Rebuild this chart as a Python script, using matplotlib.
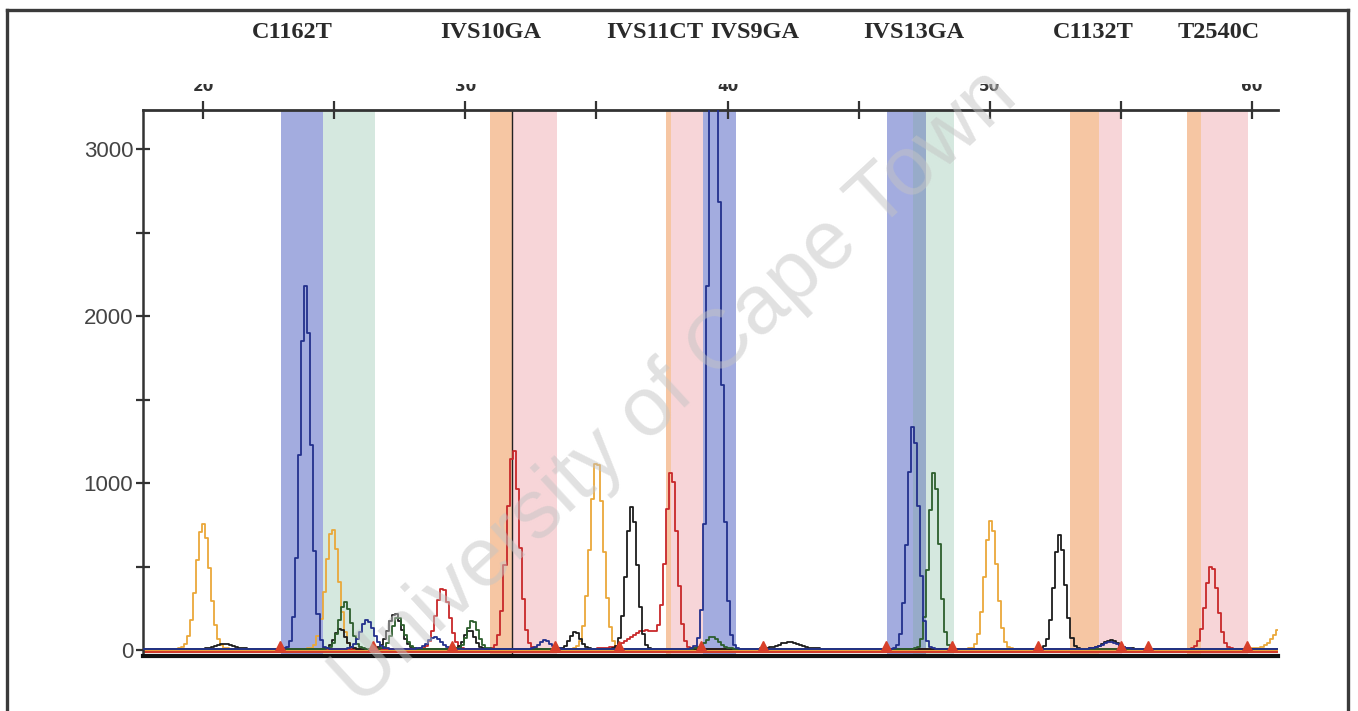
import numpy as np
import matplotlib
matplotlib.use("Agg")
import matplotlib.pyplot as plt
from matplotlib.lines import Line2D
from matplotlib.patches import Rectangle

# bins (x in bp)
bin_labels = ["C1162T", "IVS10GA", "IVS11CT", "IVS9GA", "IVS13GA", "C1132T", "T2540C"]
bin_label_x = [23.4, 30.97, 37.22, 41.03, 47.11, 53.94, 58.74]
bins = [  # (start, end, colour key)
    (22.98, 24.58, "blue"), (24.58, 26.56, "green"),
    (30.95, 31.79, "orange"), (31.79, 33.51, "pink"),
    (37.67, 37.85, "orange"), (37.85, 39.08, "pink"), (39.08, 40.31, "blue"),
    (46.07, 47.56, "blue"), (47.56, 48.63, "green"),
    (53.05, 54.16, "orange"), (54.16, 55.04, "pink"),
    (57.52, 58.05, "orange"), (58.05, 59.85, "pink"),
]
band_colors = {"blue": "#a3acdf", "green": "#d5e8df", "orange": "#f6c6a3", "pink": "#f7d5d8"}

# peaks per dye: centre (bp), height (rfu), sigma (bp)
blue_pos = [23.93, 26.25, 28.85, 33.04, 39.40, 39.52, 47.07, 54.59]
blue_h = [2170, 170, 70, 50, 2480, 3200, 1340, 40]
blue_w = [0.21, 0.25, 0.25, 0.2, 0.12, 0.23, 0.21, 0.3]

green_pos = [25.41, 27.44, 30.30, 39.41, 47.87]
green_h = [280, 190, 170, 70, 1060]
green_w = [0.22, 0.22, 0.2, 0.25, 0.2]

black_pos = [20.84, 25.22, 27.32, 30.18, 34.19, 36.36, 42.38, 52.68, 54.59]
black_h = [30, 120, 210, 110, 100, 850, 40, 680, 50]
black_w = [0.3, 0.2, 0.25, 0.2, 0.2, 0.21, 0.4, 0.21, 0.3]

red_pos = [29.15, 31.82, 36.9, 37.88, 58.47]
red_h = [365, 1200, 110, 1040, 500]
red_w = [0.25, 0.23, 0.6, 0.21, 0.23]

orange_pos = [20.0, 24.92, 35.02, 50.05, 61.3]
orange_h = [750, 720, 1130, 770, 160]
orange_w = [0.26, 0.25, 0.25, 0.23, 0.4]

# size standard markers on baseline
marker_x = [22.94, 26.48, 29.49, 33.42, 35.86, 38.99, 41.35, 46.04,
            48.56, 51.84, 55.00, 56.03, 59.81]

y_ticks = [0, 1000, 2000, 3000]
top_ticks = [20, 30, 40, 50, 60]

fig = plt.figure(figsize=(13.58, 7.11), dpi=100)
ax = fig.add_axes([143 / 1358, 1 - 656 / 711, (1278 - 143) / 1358, (656 - 110) / 711])
ax.set_xlim(17.712, 60.99)
ax.set_ylim(-36, 3234)

for lo, hi, c in bins:
    ax.axvspan(lo, hi, color=band_colors[c], lw=0, zorder=0)
# overlap blue/green in IVS13GA bin
ax.axvspan(47.07, 47.56, color="#97abc9", lw=0, zorder=0)

ax.axvline(31.79, color="#222222", lw=1.0, zorder=1)

xs = np.arange(17.6, 61.2, 0.115)


def trace(pos, h, w):
    y = np.zeros_like(xs)
    for p, hh, ww in zip(pos, h, w):
        y = y + hh * np.exp(-0.5 * ((xs - p) / ww) ** 2)
    return y


ax.plot(xs, np.full_like(xs, -6), color="#d13a2a", lw=2.2, zorder=2)
ax.plot(xs, np.full_like(xs, 6), color="#efad3c", lw=2.0, zorder=2)

channels = [
    (orange_pos, orange_h, orange_w, "#eaa83a"),
    (red_pos, red_h, red_w, "#c8282a"),
    (black_pos, black_h, black_w, "#1c1c1c"),
    (green_pos, green_h, green_w, "#2c5e2c"),
    (blue_pos, blue_h, blue_w, "#23308c"),
]
for pos, h, w, col in channels:
    ax.plot(xs, trace(pos, h, w) + 8, color=col, lw=1.3, drawstyle="steps-mid", zorder=3)

ax.plot(marker_x, [25] * len(marker_x), ls="none", marker="^", ms=7,
        color="#d8402a", zorder=4)

# spines and ticks
ax.spines["right"].set_visible(False)
ax.spines["top"].set_color("#333333")
ax.spines["top"].set_linewidth(2)
ax.spines["left"].set_color("#333333")
ax.spines["left"].set_linewidth(1.8)
ax.spines["bottom"].set_color("#111111")
ax.spines["bottom"].set_linewidth(3)

ax.set_yticks(y_ticks)
ax.set_yticks([500, 1500, 2500], minor=True)
ax.set_yticklabels([str(v) for v in y_ticks], family="Liberation Sans",
                   fontsize=16, color="#444444")
ax.tick_params(axis="y", which="both", direction="inout", length=10, width=1.6,
               color="#333333", pad=2)

ax.xaxis.tick_top()
ax.set_xticks(top_ticks)
ax.set_xticks([25, 35, 45, 55], minor=True)
ax.set_xticklabels([])
ax.tick_params(axis="x", which="both", direction="inout", length=13, width=1.6,
               color="#333333", bottom=False)

# tick labels on the top axis; their upper half is lost in the scan
for v in top_ticks:
    ax.text(v, 1 + 16 / 546, str(v), transform=ax.get_xaxis_transform(), ha="center",
            va="bottom", fontsize=11, fontweight="bold", color="#333333",
            family="DejaVu Sans")
fig.add_artist(Rectangle((143 / 1358, 1 - 84 / 711), (1278 - 143) / 1358, 25 / 711,
                         transform=fig.transFigure, color="white", lw=0, zorder=5))

for lab, x in zip(bin_labels, bin_label_x):
    ax.text(x, 1 + 77 / 546, lab, transform=ax.get_xaxis_transform(), ha="center",
            va="center", fontsize=17.5, fontweight="bold", family="Liberation Serif",
            color="#2a2a2a")

# outer frame
frame_kw = dict(color="#3a3a3a", lw=2.4, transform=fig.transFigure, zorder=6)
fig.add_artist(Line2D([7 / 1358, 7 / 1358], [0, 1 - 10 / 711], **frame_kw))
fig.add_artist(Line2D([7 / 1358, 1348 / 1358], [1 - 10 / 711, 1 - 10 / 711], **frame_kw))
fig.add_artist(Line2D([1348 / 1358, 1348 / 1358], [0, 1 - 10 / 711], **frame_kw))

# watermark
fig.text(675 / 1358, 1 - 388 / 711, "University of Cape Town", rotation=42.6,
         ha="center", va="center", fontsize=60, color="#c4c4c4", alpha=0.5,
         family="Liberation Sans", rotation_mode="anchor", zorder=7)

fig.savefig("out.png", dpi=100)
